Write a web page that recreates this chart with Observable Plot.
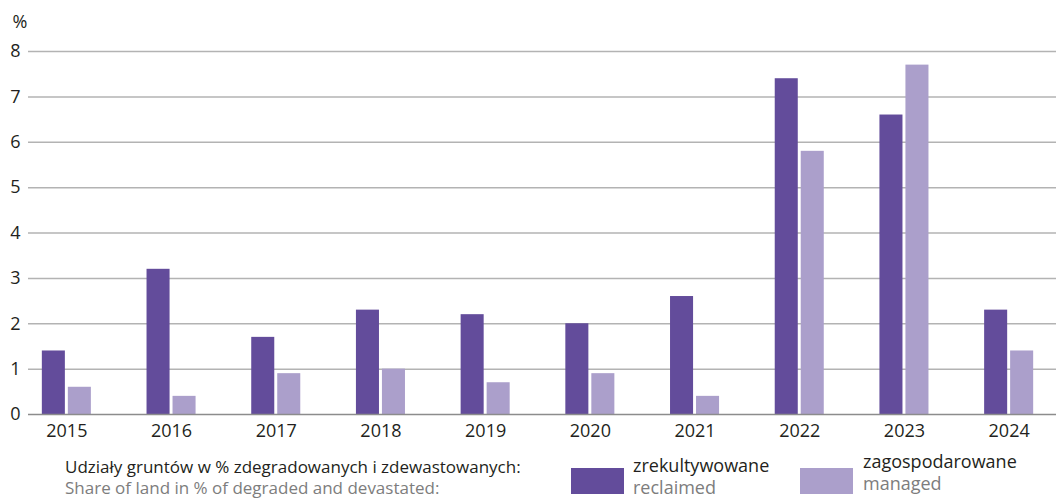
<!DOCTYPE html>
<html>
<head>
<meta charset="utf-8">
<script src="https://cdn.jsdelivr.net/npm/d3@7"></script>
<script src="https://cdn.jsdelivr.net/npm/@observablehq/plot@0.6"></script>
<style>
  html, body { margin: 0; padding: 0; background: #fff; }
  #wrap { position: relative; width: 1056px; height: 501px; font-family: "Open Sans", sans-serif; color: #231f20; }
  #chart svg { display: block; }
  .leg { position: absolute; font-size: 17px; line-height: 21px; white-space: nowrap; }
  .leg.big { font-size: 18px; line-height: 22px; }
  .leg .en { color: #7d7d7d; }
  .sw { position: absolute; width: 53px; height: 26px; }
</style>
</head>
<body>
<div id="wrap">
  <div id="chart"></div>
  <div class="leg" id="legTitle" style="left:65px; top:456px;"></div>
  <div class="sw" id="sw0" style="left:571px; top:468px;"></div>
  <div class="leg big" id="leg0" style="left:633px; top:454px;"></div>
  <div class="sw" id="sw1" style="left:800px; top:468px;"></div>
  <div class="leg big" id="leg1" style="left:863px; top:450px;"></div>
</div>
<script>
const years = ["2015","2016","2017","2018","2019","2020","2021","2022","2023","2024"];
const reclaimed = [1.4, 3.2, 1.7, 2.3, 2.2, 2.0, 2.6, 7.4, 6.6, 2.3];
const managed   = [0.6, 0.4, 0.9, 1.0, 0.7, 0.9, 0.4, 5.8, 7.7, 1.4];
const seriesPL = ["zrekultywowane", "zagospodarowane"];
const seriesEN = ["reclaimed", "managed"];
const colors = ["#634c9b", "#ab9fcb"];
const yTicks = [0,1,2,3,4,5,6,7,8];
const unitLabel = "%";
const titlePL = "Udziały gruntów w % zdegradowanych i zdewastowanych:";
const titleEN = "Share of land in % of degraded and devastated:";

const data = [];
years.forEach((y, i) => {
  data.push({year: y, series: seriesPL[0], value: reclaimed[i]});
  data.push({year: y, series: seriesPL[1], value: managed[i]});
});

const chart = Plot.plot({
  width: 1056,
  height: 445,
  marginLeft: 28,
  marginRight: 0,
  marginTop: 51,
  marginBottom: 31,
  style: {fontFamily: "Open Sans, sans-serif", fontSize: "18px", color: "#231f20", background: "#fff"},
  x: {type: "band", domain: years, range: [14, 1061], paddingInner: 0.78, paddingOuter: 0.39, round: false},
  y: {domain: [0, 8], ticks: yTicks},
  marks: [
    Plot.ruleY(yTicks.filter(d => d > 0), {stroke: "#b3b3b3", strokeWidth: 1.5}),
    Plot.barY(data.filter(d => d.series === seriesPL[0]), {x: "year", y: "value", fill: colors[0], dx: -13}),
    Plot.barY(data.filter(d => d.series === seriesPL[1]), {x: "year", y: "value", fill: colors[1], dx: 13}),
    Plot.ruleY([0], {stroke: "#8c8c8c", strokeWidth: 1.5}),
    Plot.axisY({ticks: yTicks, tickSize: 0, tickPadding: 8, tickFormat: d => String(d), label: null}),
    Plot.text([unitLabel], {frameAnchor: "top-left", text: d => d, textAnchor: "start", lineAnchor: "middle", dx: -16, dy: -29, fill: "#231f20"}),
    Plot.axisX({tickSize: 0, tickPadding: 10, label: null})
  ]
});
document.getElementById("chart").appendChild(chart);

document.getElementById("legTitle").innerHTML = `<div>${titlePL}</div><div class="en">${titleEN}</div>`;
document.getElementById("leg0").innerHTML = `<div>${seriesPL[0]}</div><div class="en">${seriesEN[0]}</div>`;
document.getElementById("leg1").innerHTML = `<div>${seriesPL[1]}</div><div class="en">${seriesEN[1]}</div>`;
document.getElementById("sw0").style.background = colors[0];
document.getElementById("sw1").style.background = colors[1];
</script>
</body>
</html>
